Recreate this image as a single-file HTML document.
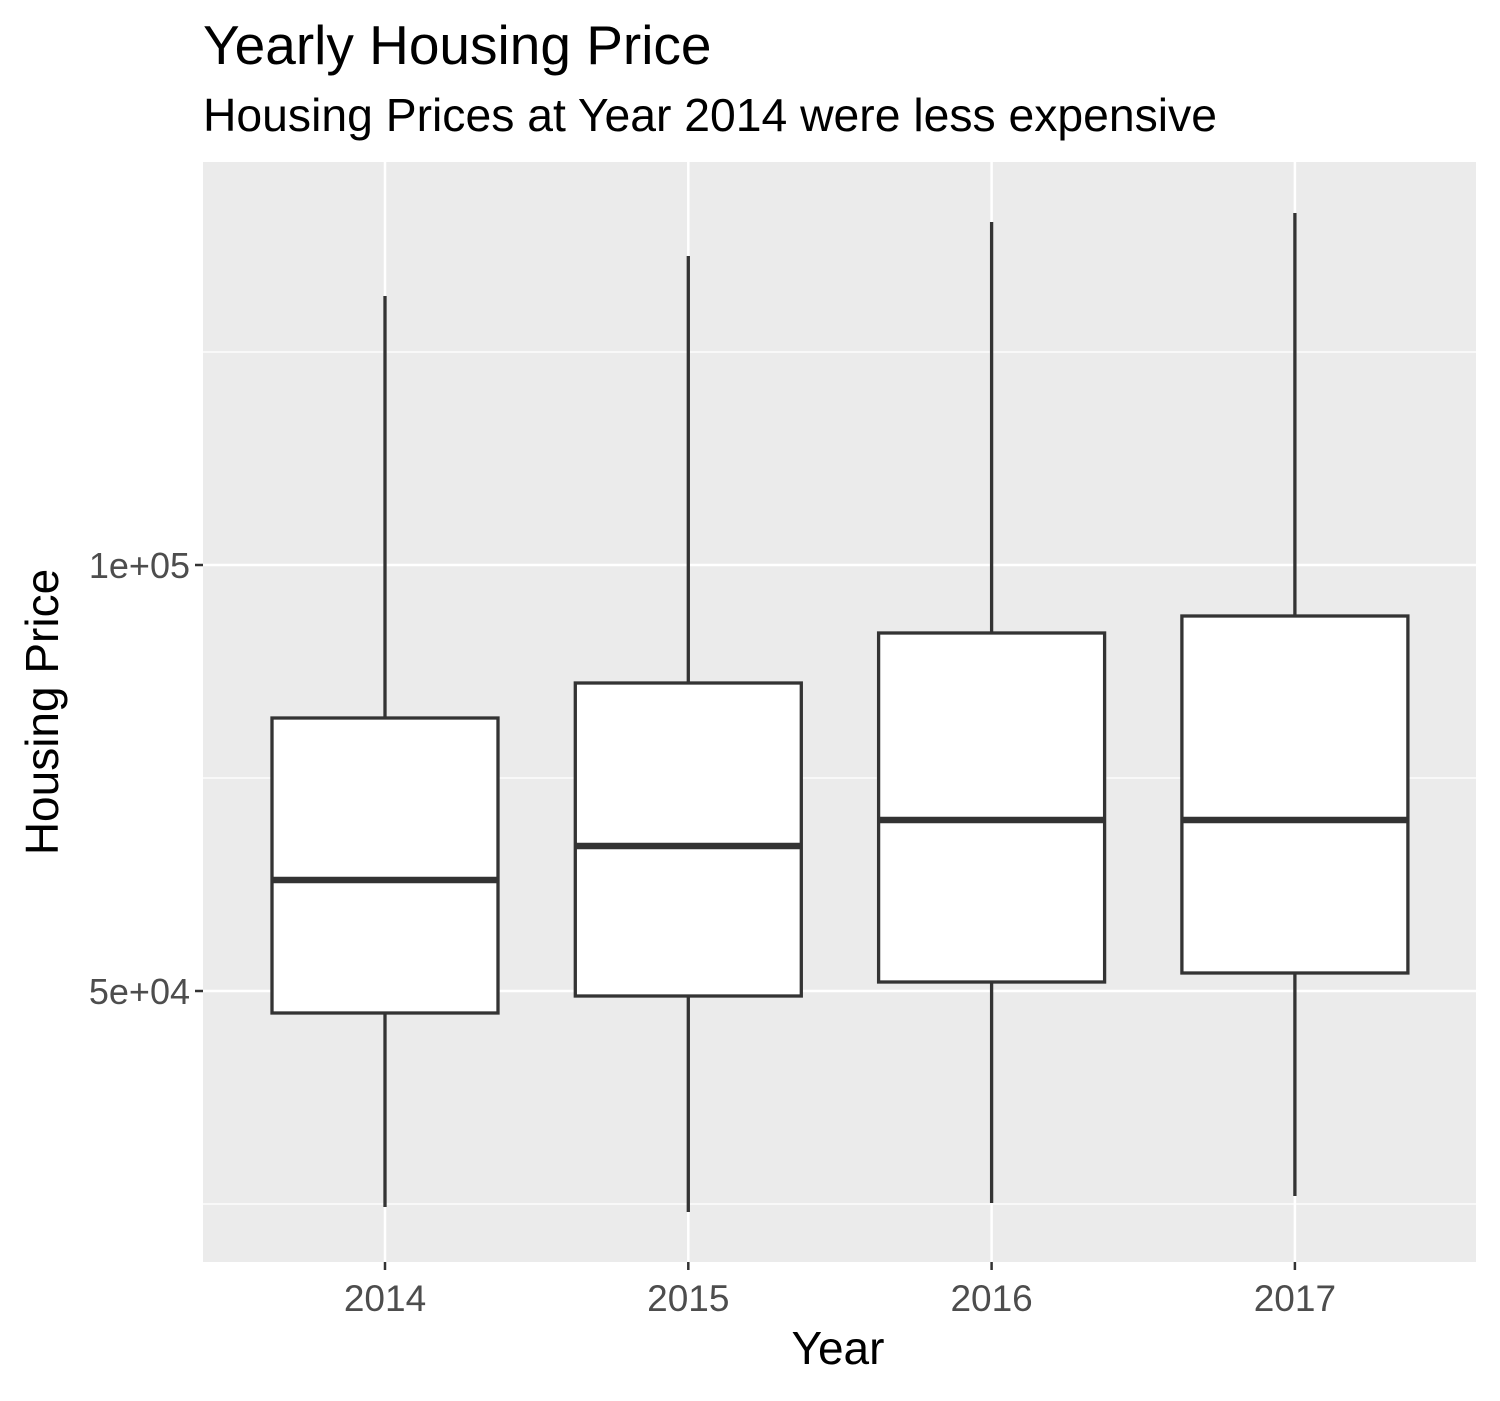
<!DOCTYPE html>
<html><head><meta charset="utf-8"><style>
body{margin:0;background:#fff;font-family:"Liberation Sans",Arial,sans-serif}
</style></head><body>
<svg id="chart" width="1500" height="1396" xmlns="http://www.w3.org/2000/svg">
<text x="203" y="64" font-size="55" fill="#000">Yearly Housing Price</text>
<text x="203" y="131" font-size="46.3" fill="#000">Housing Prices at Year 2014 were less expensive</text>
<rect x="203" y="162" width="1273" height="1100" fill="#ebebeb"/>
<g id="grid"></g><g id="boxes"></g><g id="axes"></g>
<text x="838" y="1364" font-size="46" text-anchor="middle">Year</text>
<text transform="translate(58,712) rotate(-90)" font-size="46" text-anchor="middle">Housing Price</text>
</svg>
<script>
const categories=["2014","2015","2016","2017"];
const whiskerLow=[24648,24061,25117,25939];
const q1=[47418,49413,51056,52113];
const median=[63028,67019,70070,70070];
const q3=[82042,86150,92019,94014];
const whiskerHigh=[131573,136268,140258,141315];
const majorTicks=[50000,100000];
const tickLabels=["5e+04","1e+05"];
const minorTicks=[25000,75000,125000];
const NS="http://www.w3.org/2000/svg";
const y=v=>565-(v-100000)/50000*426;
const x=i=>385+i*303.3;
function mk(t,a,p){const e=document.createElementNS(NS,t);for(const k in a)e.setAttribute(k,a[k]);p.appendChild(e);return e;}
const grid=document.getElementById('grid'),boxes=document.getElementById('boxes'),axes=document.getElementById('axes');
minorTicks.forEach(v=>{const l=mk('line',{x1:203,x2:1476,y1:y(v),y2:y(v),stroke:'#fff','stroke-width':1.2},grid);

});
majorTicks.forEach((v,i)=>{const l=mk('line',{x1:203,x2:1476,y1:y(v),y2:y(v),stroke:'#fff','stroke-width':2.5},grid);


const t=mk('line',{x1:195,x2:203,y1:y(v),y2:y(v),stroke:'#333','stroke-width':2.5},axes);


const tx=mk('text',{x:190,y:y(v)+13,'font-size':36,'text-anchor':'end',fill:'#4d4d4d'},axes);tx.textContent=tickLabels[i];

});
categories.forEach((c,i)=>{const cx=x(i);
const g=mk('line',{x1:cx,x2:cx,y1:162,y2:1262,stroke:'#fff','stroke-width':2.5},grid);


const t=mk('line',{x1:cx,x2:cx,y1:1262,y2:1270,stroke:'#333','stroke-width':2.5},axes);


const tx=mk('text',{x:cx,y:1311,'font-size':37,'text-anchor':'middle',fill:'#4d4d4d'},axes);tx.textContent=c;


const grp=mk('g',{},boxes);


mk('line',{x1:cx,x2:cx,y1:y(whiskerHigh[i]),y2:y(q3[i]),stroke:'#333','stroke-width':3.3},grp);
mk('line',{x1:cx,x2:cx,y1:y(q1[i]),y2:y(whiskerLow[i]),stroke:'#333','stroke-width':3.3},grp);
mk('rect',{x:cx-113,y:y(q3[i]),width:226,height:y(q1[i])-y(q3[i]),fill:'#fff',stroke:'#333','stroke-width':3.3},grp);
mk('line',{x1:cx-113,x2:cx+113,y1:y(median[i]),y2:y(median[i]),stroke:'#333','stroke-width':6.5},grp);
});
</script>
</body></html>
